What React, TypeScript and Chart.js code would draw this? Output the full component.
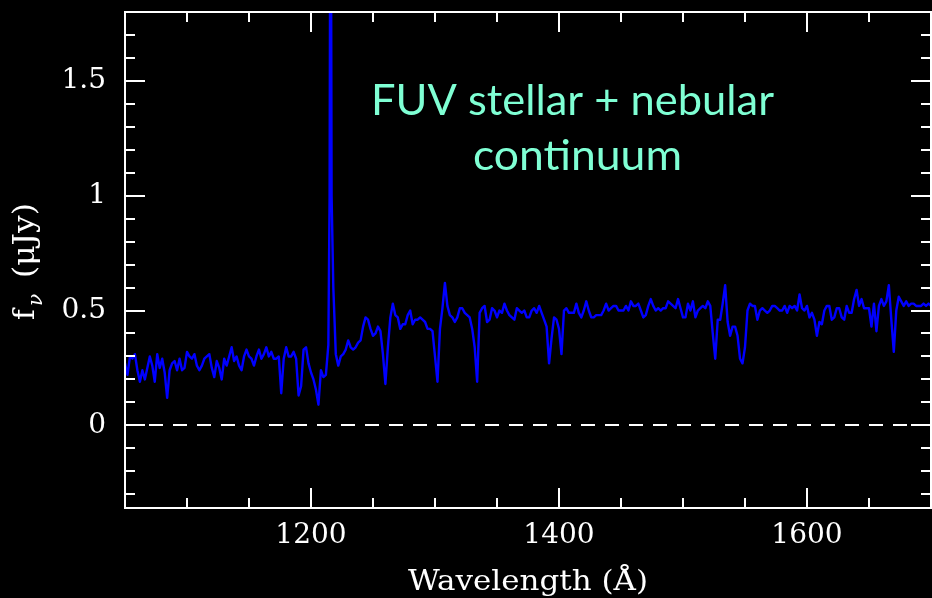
import React, { useEffect, useRef } from "react";
import { Chart, registerables } from "chart.js";

Chart.register(...registerables);

// Wavelength grid (Å): regular 2 Å sampling starting at 1050 Å
const WAVE_START = 1050;
const WAVE_STEP = 2;

// f_nu (µJy), in consecutive wavelength blocks
// 1050–1158 Å
const FLUX_1050 = [0.27, 0.22, 0.30, 0.29, 0.31, 0.24, 0.19, 0.24, 0.20, 0.25, 0.30, 0.26, 0.19, 0.31, 0.25, 0.29, 0.23, 0.12, 0.24, 0.27, 0.28, 0.24, 0.29, 0.24, 0.25, 0.32, 0.30, 0.29, 0.31, 0.26, 0.24, 0.26, 0.29, 0.30, 0.31, 0.25, 0.21, 0.28, 0.25, 0.20, 0.29, 0.26, 0.30, 0.34, 0.28, 0.30, 0.26, 0.24, 0.30, 0.33, 0.30, 0.29, 0.26, 0.30, 0.33];
// 1160–1266 Å (the 1216 Å sample is replaced by the Lyα core below)
const FLUX_1160 = [0.29, 0.31, 0.34, 0.30, 0.32, 0.29, 0.29, 0.30, 0.14, 0.29, 0.34, 0.30, 0.30, 0.32, 0.29, 0.13, 0.17, 0.33, 0.34, 0.27, 0.23, 0.20, 0.155, 0.09, 0.24, 0.21, 0.22, 0.35, null, 0.6, 0.31, 0.26, 0.30, 0.31, 0.33, 0.37, 0.34, 0.33, 0.34, 0.36, 0.37, 0.43, 0.47, 0.46, 0.42, 0.39, 0.40, 0.43, 0.41, 0.31, 0.18, 0.34, 0.47, 0.53];
// 1268–1374 Å
const FLUX_1268 = [0.48, 0.47, 0.42, 0.44, 0.44, 0.48, 0.50, 0.44, 0.46, 0.46, 0.47, 0.46, 0.45, 0.42, 0.42, 0.41, 0.30, 0.19, 0.42, 0.51, 0.62, 0.52, 0.48, 0.47, 0.45, 0.47, 0.51, 0.51, 0.49, 0.48, 0.47, 0.42, 0.34, 0.19, 0.49, 0.51, 0.52, 0.45, 0.46, 0.51, 0.50, 0.47, 0.50, 0.49, 0.53, 0.50, 0.48, 0.47, 0.46, 0.51, 0.50, 0.49, 0.50, 0.47];
// 1376–1482 Å
const FLUX_1376 = [0.47, 0.50, 0.51, 0.49, 0.52, 0.49, 0.46, 0.43, 0.27, 0.38, 0.47, 0.46, 0.42, 0.31, 0.50, 0.51, 0.49, 0.49, 0.49, 0.53, 0.49, 0.47, 0.50, 0.54, 0.50, 0.47, 0.47, 0.48, 0.48, 0.48, 0.50, 0.53, 0.50, 0.51, 0.52, 0.52, 0.50, 0.50, 0.50, 0.52, 0.50, 0.54, 0.52, 0.52, 0.53, 0.50, 0.47, 0.48, 0.52, 0.55, 0.52, 0.50, 0.51, 0.50];
// 1484–1590 Å
const FLUX_1484 = [0.51, 0.51, 0.54, 0.53, 0.52, 0.51, 0.55, 0.51, 0.47, 0.47, 0.53, 0.50, 0.54, 0.47, 0.50, 0.51, 0.52, 0.51, 0.54, 0.52, 0.40, 0.29, 0.46, 0.46, 0.53, 0.61, 0.45, 0.39, 0.43, 0.43, 0.39, 0.29, 0.27, 0.34, 0.50, 0.53, 0.52, 0.52, 0.46, 0.50, 0.51, 0.50, 0.49, 0.50, 0.52, 0.52, 0.51, 0.50, 0.50, 0.52, 0.49, 0.52, 0.51, 0.52];
// 1592–1700 Å
const FLUX_1592 = [0.50, 0.57, 0.51, 0.50, 0.52, 0.47, 0.49, 0.46, 0.39, 0.45, 0.44, 0.50, 0.52, 0.52, 0.46, 0.47, 0.51, 0.51, 0.47, 0.46, 0.52, 0.49, 0.49, 0.55, 0.59, 0.52, 0.55, 0.51, 0.51, 0.51, 0.43, 0.53, 0.41, 0.52, 0.55, 0.52, 0.54, 0.61, 0.46, 0.32, 0.50, 0.56, 0.54, 0.52, 0.54, 0.52, 0.53, 0.53, 0.52, 0.52, 0.52, 0.53, 0.52, 0.53, 0.52];

// Lyα emission core (peak runs off the top of the plot)
const LYA_WAVE = [1215.0, 1215.8, 1216.6];
const LYA_FLUX = [1.0, 3.0, 1.0];

const X_MIN = 1050;
const X_MAX = 1700;
const Y_MIN = -0.36;
const Y_MAX = 1.8;
const X_MAJOR = [1200, 1400, 1600];
const X_MINOR = [1100, 1150, 1250, 1300, 1350, 1450, 1500, 1550, 1650];
const Y_MAJOR = [0, 0.5, 1, 1.5];
const Y_MINOR = [-0.3, -0.2, -0.1, 0.1, 0.2, 0.3, 0.4, 0.6, 0.7, 0.8, 0.9, 1.1, 1.2, 1.3, 1.4, 1.6, 1.7];
const Y_TICK_LABELS = ["0", "0.5", "1", "1.5"];

const X_TITLE = "Wavelength (Å)";
const NOTE_LINES = ["FUV stellar + nebular", "continuum"];

const FLUX = [...FLUX_1050, ...FLUX_1160, ...FLUX_1268, ...FLUX_1376, ...FLUX_1484, ...FLUX_1592];
const POINTS = FLUX.map((f, i) => ({ x: WAVE_START + i * WAVE_STEP, y: f }))
  .filter((p) => p.y !== null)
  .concat(LYA_WAVE.map((w, i) => ({ x: w, y: LYA_FLUX[i] })))
  .sort((a, b) => a.x - b.x);

const SERIF = '"DejaVu Serif"';

function drawFitted(ctx: CanvasRenderingContext2D, text: string, left: number, baseline: number, width: number) {
  const w = ctx.measureText(text).width;
  ctx.save();
  ctx.translate(left, baseline);
  ctx.scale(width / w, 1);
  ctx.textAlign = "left";
  ctx.textBaseline = "alphabetic";
  ctx.fillText(text, 0, 0);
  ctx.restore();
}

const decorPlugin = {
  id: "decor",
  beforeDatasetsDraw(chart: any) {
    const { ctx, chartArea: a, scales } = chart;
    const y0 = Math.round(scales.y.getPixelForValue(0));
    ctx.save();
    ctx.strokeStyle = "#ffffff";
    ctx.lineWidth = 2;
    ctx.setLineDash([14, 10]);
    ctx.beginPath();
    ctx.moveTo(a.left, y0);
    ctx.lineTo(a.right, y0);
    ctx.stroke();
    ctx.restore();
  },
  afterDatasetsDraw(chart: any) {
    const { ctx, chartArea: a, scales } = chart;
    const xs = scales.x;
    const ys = scales.y;
    ctx.save();
    ctx.strokeStyle = "#ffffff";
    ctx.lineWidth = 2;
    ctx.setLineDash([]);
    ctx.beginPath();
    const xTick = (v: number, len: number) => {
      const px = Math.round(xs.getPixelForValue(v));
      ctx.moveTo(px, a.bottom);
      ctx.lineTo(px, a.bottom - len);
      ctx.moveTo(px, a.top);
      ctx.lineTo(px, a.top + len);
    };
    const yTick = (v: number, len: number) => {
      const py = Math.round(ys.getPixelForValue(v));
      ctx.moveTo(a.left, py);
      ctx.lineTo(a.left + len, py);
      ctx.moveTo(a.right, py);
      ctx.lineTo(a.right - len, py);
    };
    X_MAJOR.forEach((v) => xTick(v, 20));
    X_MINOR.forEach((v) => xTick(v, 10));
    Y_MAJOR.forEach((v) => yTick(v, 20));
    Y_MINOR.forEach((v) => yTick(v, 10));
    ctx.stroke();
    ctx.strokeRect(a.left, a.top, a.right - a.left, a.bottom - a.top);
    ctx.restore();
  },
  afterDraw(chart: any) {
    const { ctx } = chart;
    ctx.save();
    ctx.fillStyle = "#ffffff";
    // x-axis title
    ctx.font = `28px ${SERIF}`;
    drawFitted(ctx, X_TITLE, 408, 590, 240);

    // y-axis title: f_nu (µJy), rotated
    ctx.save();
    ctx.translate(34, 320);
    ctx.rotate(-Math.PI / 2);
    ctx.textAlign = "left";
    ctx.textBaseline = "alphabetic";
    ctx.font = `29px ${SERIF}`;
    ctx.fillText("f", 0, 0);
    ctx.font = `italic 20px ${SERIF}`;
    ctx.fillText("ν", 14, 8);
    ctx.font = `29px ${SERIF}`;
    drawFitted(ctx, "(μJy)", 42, 0, 75);
    ctx.restore();

    // annotation
    ctx.fillStyle = "#7FFFD4";
    ctx.font = `42px Lato`;
    drawFitted(ctx, NOTE_LINES[0], 371, 115, 403);
    drawFitted(ctx, NOTE_LINES[1], 473, 170, 209);
    ctx.restore();
  },
};

function noPad(s: any) {
  s.paddingTop = 0;
  s.paddingBottom = 0;
  s.paddingLeft = 0;
  s.paddingRight = 0;
}

export default function App() {
  const ref = useRef<HTMLCanvasElement>(null);
  useEffect(() => {
    const canvas = ref.current;
    if (!canvas) return;
    const tickFont = { family: "DejaVu Serif", size: 28 };
    const chart = new Chart(canvas, {
      type: "line",
      data: {
        datasets: [
          {
            data: POINTS,
            borderColor: "#0000ff",
            borderWidth: 2.4,
            pointRadius: 0,
            tension: 0,
            fill: false,
            borderJoinStyle: "round",
          } as any,
        ],
      },
      options: {
        animation: false,
        responsive: false,
        devicePixelRatio: 1,
        events: [],
        layout: { padding: { left: 0, right: 1, top: 12, bottom: 0 } },
        plugins: {
          legend: { display: false },
          tooltip: { enabled: false },
          title: { display: false },
        },
        scales: {
          x: {
            type: "linear",
            min: X_MIN,
            max: X_MAX,
            afterBuildTicks: (s: any) => {
              s.ticks = X_MAJOR.map((v) => ({ value: v }));
            },
            afterFit: (s: any) => {
              s.height = 90;
              noPad(s);
            },
            grid: { display: false, drawTicks: false },
            border: { display: false },
            ticks: {
              color: "#ffffff",
              font: tickFont,
              padding: 11,
              maxRotation: 0,
              autoSkip: false,
              callback: (v: any) => String(v),
            },
          },
          y: {
            type: "linear",
            min: Y_MIN,
            max: Y_MAX,
            afterBuildTicks: (s: any) => {
              s.ticks = Y_MAJOR.map((v) => ({ value: v }));
            },
            afterFit: (s: any) => {
              s.width = 125;
              noPad(s);
            },
            grid: { display: false, drawTicks: false },
            border: { display: false },
            ticks: {
              color: "#ffffff",
              font: tickFont,
              padding: 19,
              autoSkip: false,
              callback: (v: any) => {
                const i = Y_MAJOR.indexOf(Number(v));
                return i >= 0 ? Y_TICK_LABELS[i] : String(v);
              },
            },
          },
        },
      } as any,
      plugins: [decorPlugin],
    });
    return () => chart.destroy();
  }, []);

  return (
    <div style={{ position: "fixed", left: 0, top: 0, width: 932, height: 598, background: "#000000" }}>
      <canvas ref={ref} width={932} height={598} style={{ display: "block" }} />
    </div>
  );
}
